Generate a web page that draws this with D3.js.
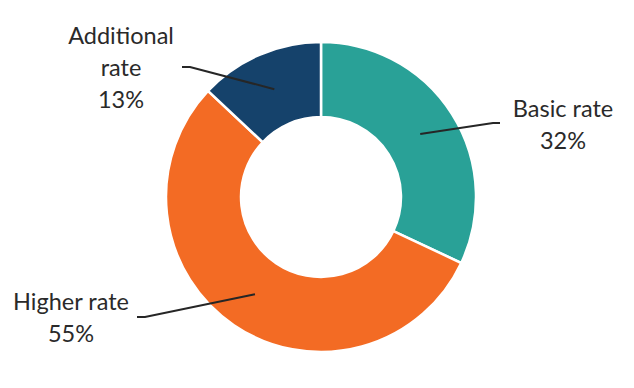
<!DOCTYPE html>
<html>
<head>
<meta charset="utf-8">
<script src="https://cdn.jsdelivr.net/npm/d3@7"></script>
<style>
  html, body { margin: 0; padding: 0; background: #ffffff; }
  svg { display: block; }
  text { font-family: Lato, "Open Sans", sans-serif; fill: #2a2a2a; }
</style>
</head>
<body>
<svg id="chart" width="634" height="388"></svg>
<script>
// ---- data ----
const categories = ["Basic rate", "Higher rate", "Additional rate"];
const values = [32, 55, 13];
const labelLines = [["Basic rate", "32%"], ["Higher rate", "55%"], ["Additional", "rate", "13%"]];
const colors = ["#29a197", "#f36b24", "#15426b"];

// ---- layout ----
const W = 634, H = 388;
const cx = 321, cy = 197, rOuter = 155, rInner = 80;
// label anchors (text centre x, first baseline y) and leader-line elbow points
const labelPos = [
  { x: 563, y: 117, elbow: [[493, 123], [500, 123]] },
  { x: 71,  y: 310, elbow: [[145, 317], [137, 317]] },
  { x: 121, y: 44,  elbow: [[190, 67], [182, 67]] }
];
const lineHeight = 32;

const svg = d3.select("#chart");
const g = svg.append("g").attr("transform", `translate(${cx},${cy})`);

const pie = d3.pie().sort(null).value(d => d)(values);
const arc = d3.arc().innerRadius(rInner).outerRadius(rOuter);
const color = d3.scaleOrdinal().domain(categories).range(colors);

g.selectAll("path.slice")
  .data(pie)
  .join("path")
  .attr("class", "slice")
  .attr("d", arc)
  .attr("fill", (d, i) => color(categories[i]))
  .attr("stroke", "#ffffff")
  .attr("stroke-width", 2.5)
  .attr("stroke-linejoin", "miter");

// leader lines from arc centroid to elbow points
const line = d3.line();
g.selectAll("path.leader")
  .data(pie)
  .join("path")
  .attr("class", "leader")
  .attr("d", (d, i) => {
    const c = arc.centroid(d);
    const pts = [c].concat(labelPos[i].elbow.map(p => [p[0] - cx, p[1] - cy]));
    return line(pts);
  })
  .attr("fill", "none")
  .attr("stroke", "#262626")
  .attr("stroke-width", 2);

// labels
const lab = svg.selectAll("text.label")
  .data(pie)
  .join("text")
  .attr("class", "label")
  .attr("text-anchor", "middle")
  .attr("font-size", 23.5);
lab.each(function (d, i) {
  const t = d3.select(this);
  labelLines[i].forEach((s, k) => {
    t.append("tspan")
      .attr("x", labelPos[i].x)
      .attr("y", labelPos[i].y + k * lineHeight)
      .text(s);
  });
});
</script>
</body>
</html>
